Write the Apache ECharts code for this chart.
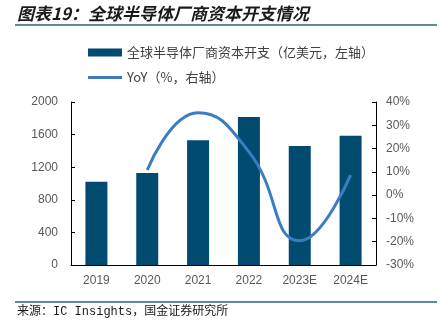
<!DOCTYPE html>
<html>
<head>
<meta charset="utf-8">
<script src="https://cdn.jsdelivr.net/npm/echarts@6/dist/echarts.min.js"></script>
<style>
  html, body { margin: 0; padding: 0; background: #fff; }
  #chart { width: 440px; height: 322px; }
</style>
</head>
<body>
<div id="chart"></div>
<script>
// Global semiconductor capex (USD 100m) and YoY growth
const years = ['2019', '2020', '2021', '2022', '2023E', '2024E'];
const capex = [1020, 1130, 1530, 1815, 1460, 1585];
const yoy = [null, 10.8, 35.4, 18.6, -19.6, 8.6];
const leftTicks = { min: 0, max: 2000, interval: 400 };
const rightTicks = { min: -30, max: 40, interval: 10 };

const capexName = '全球半导体厂商资本开支（亿美元，左轴）';
const yoyName = 'YoY（%，右轴）';

const chart = echarts.init(document.getElementById('chart'), null, { renderer: 'canvas' });

const axisText = { color: '#595959', fontSize: 12, fontFamily: 'Liberation Sans, Arial, sans-serif' };
const legendText = { color: '#404040', fontSize: 13, fontFamily: '"Noto Sans CJK SC"' };

chart.setOption({
  animation: false,
  backgroundColor: '#fff',
  graphic: [
    {
      type: 'text', left: 17, top: 5,
      style: {
        text: '图表19：全球半导体厂商资本开支情况',
        font: 'italic bold 17px "Noto Sans CJK SC"',
        fill: '#1a1a1a'
      }
    },
    {
      type: 'line', shape: { x1: 15, y1: 25, x2: 437, y2: 25 },
      style: { stroke: '#2b5f86', lineWidth: 1.5 }
    },
    {
      type: 'line', shape: { x1: 15, y1: 302, x2: 437, y2: 302 },
      style: { stroke: '#2b5f86', lineWidth: 1.5 }
    },
    {
      type: 'text', left: 17, top: 306,
      style: {
        text: '来源：IC Insights，国金证券研究所',
        font: '12px "Liberation Mono", "Noto Sans CJK SC"',
        fill: '#1a1a1a'
      }
    }
  ],
  legend: [
    {
      left: 88, top: 46, padding: 0,
      itemWidth: 34, itemHeight: 8,
      textStyle: legendText,
      data: [{ name: capexName, icon: 'rect' }]
    },
    {
      left: 88, top: 71, padding: 0,
      itemWidth: 34, itemHeight: 3,
      textStyle: legendText,
      data: [{ name: yoyName, icon: 'rect' }]
    }
  ],
  grid: { left: 71, right: 64, top: 102, bottom: 57 },
  xAxis: {
    type: 'category',
    data: years,
    axisLine: { lineStyle: { color: '#000', width: 1 } },
    axisTick: { inside: true, length: 4, lineStyle: { color: '#000' } },
    axisLabel: Object.assign({ margin: 10 }, axisText)
  },
  yAxis: [
    {
      type: 'value',
      min: leftTicks.min, max: leftTicks.max, interval: leftTicks.interval,
      axisLine: { show: true, lineStyle: { color: '#000' } },
      axisTick: { show: true, inside: true, length: 4, lineStyle: { color: '#000' } },
      splitLine: { show: false },
      axisLabel: Object.assign({ margin: 13, formatter: (v) => String(v) }, axisText)
    },
    {
      type: 'value',
      position: 'right',
      min: rightTicks.min, max: rightTicks.max, interval: rightTicks.interval,
      axisLine: { show: true, lineStyle: { color: '#000' } },
      axisTick: { show: true, inside: true, length: 4, lineStyle: { color: '#000' } },
      splitLine: { show: false },
      axisLabel: Object.assign({ margin: 10, formatter: (v) => v + '%' }, axisText)
    }
  ],
  series: [
    {
      name: capexName,
      type: 'bar',
      data: capex,
      barWidth: 22,
      itemStyle: { color: '#014a70' }
    },
    {
      name: yoyName,
      type: 'line',
      yAxisIndex: 1,
      data: yoy,
      smooth: 0.5,
      symbol: 'none',
      lineStyle: { color: '#3b7dc0', width: 3 },
      itemStyle: { color: '#3b7dc0' }
    }
  ]
});
</script>
</body>
</html>
